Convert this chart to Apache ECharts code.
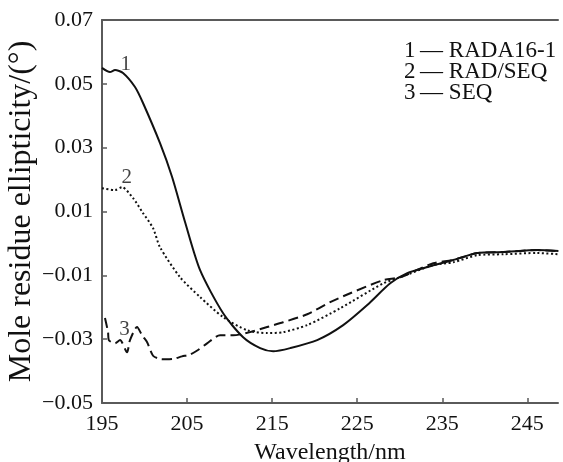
<!DOCTYPE html>
<html>
<head>
<meta charset="utf-8">
<script src="https://cdn.jsdelivr.net/npm/echarts@6/dist/echarts.min.js"></script>
<style>html,body{margin:0;padding:0;background:#fff;}#c{width:563px;height:462px;}</style>
</head>
<body>
<div id="c"></div>
<script>
// Series names
const seriesNames = ['RADA16-1', 'RAD/SEQ', 'SEQ'];
const seriesIds = ['1', '2', '3'];

// Curve 1: RADA16-1 (solid) [wavelength nm, ellipticity]
const rada16 = [
  [195.0, 0.0550], [195.94, 0.0537], [196.53, 0.0543], [197.47, 0.0534], [198.88, 0.0490],
  [199.82, 0.0440], [201.82, 0.0314], [203.24, 0.0208], [204.76, 0.0067], [206.53, -0.0084],
  [209.24, -0.0219], [211.59, -0.0294], [213.59, -0.0328], [215.12, -0.0338], [217.12, -0.0328],
  [220.29, -0.0303], [223.35, -0.0256], [226.18, -0.0193], [228.88, -0.0125], [230.88, -0.0093],
  [233.24, -0.0074], [236.29, -0.0052], [239.12, -0.0030], [242.18, -0.0027], [246.18, -0.0021],
  [248.65, -0.0024]
];

// Curve 2: RAD/SEQ (dotted)
const radseq = [
  [195.0, 0.0173], [196.53, 0.0167], [197.35, 0.0176], [198.65, 0.0142], [199.82, 0.0095],
  [201.0, 0.0048], [201.82, -0.0012], [204.18, -0.0106], [206.53, -0.0168], [209.24, -0.0231],
  [212.06, -0.0272], [214.41, -0.0281], [216.29, -0.0278], [219.12, -0.0256], [223.0, -0.0203],
  [228.06, -0.0125], [230.06, -0.0106], [233.94, -0.0068], [236.29, -0.0059], [239.12, -0.0037],
  [242.18, -0.0034], [246.18, -0.0030], [248.65, -0.0034]
];

// Curve 3: SEQ (dashed)
const seq = [
  [195.35, -0.0234], [195.71, -0.0278], [195.8, -0.0303], [196.53, -0.0313], [197.12, -0.0303],
  [197.94, -0.0341], [198.29, -0.0303], [199.12, -0.0262], [199.71, -0.0288], [200.29, -0.0309],
  [201.0, -0.0352], [201.82, -0.0362], [202.41, -0.0363], [203.35, -0.0362], [204.41, -0.0354],
  [205.35, -0.0348], [206.29, -0.0334], [207.35, -0.0313], [208.88, -0.0288], [210.41, -0.0288],
  [212.41, -0.0278], [214.41, -0.0262], [216.29, -0.0247], [219.12, -0.0222], [221.82, -0.0184],
  [224.18, -0.0156], [228.06, -0.0115], [230.06, -0.0106], [233.94, -0.0062], [236.29, -0.0052],
  [239.12, -0.0030], [242.18, -0.0027], [246.18, -0.0021], [248.65, -0.0024]
];

// Curve number labels [x, y, text]
const curveLabels = [[197.8, 0.0562, '1'], [197.9, 0.0208, '2'], [197.65, -0.0269, '3']];

// Tick values
const xTicks = [195, 205, 215, 225, 235, 245];
const yTicks = [-0.05, -0.03, -0.01, 0.01, 0.03, 0.05, 0.07];

const FONT = '"Liberation Serif", "Times New Roman", serif';
const AXC = '#5a5a5a';

const chart = echarts.init(document.getElementById('c'), null, {renderer: 'canvas'});
const lineStyles = [
  {color: '#111', width: 2, type: 'solid'},
  {color: '#111', width: 2, type: [2, 2.5]},
  {color: '#111', width: 2, type: [10, 5]}
];
const datasets = [rada16, radseq, seq];

const series = datasets.map((d, i) => ({
  name: seriesNames[i],
  type: 'line',
  xAxisIndex: 0,
  data: d,
  showSymbol: false,
  symbol: 'none',
  smooth: 0.25,
  lineStyle: lineStyles[i],
  itemStyle: {color: '#111'},
  animation: false,
  silent: true
}));
series.push({
  name: 'labels',
  type: 'scatter',
  xAxisIndex: 0,
  data: curveLabels,
  symbolSize: 0,
  label: {
    show: true, position: 'inside',
    formatter: p => p.data[2],
    fontFamily: FONT, fontSize: 21, color: '#111'
  },
  animation: false,
  silent: true
});

chart.setOption({
  backgroundColor: '#fff',
  animation: false,
  grid: {left: 102, right: 5, top: 20, bottom: 59, containLabel: false, outerBoundsMode: 'none'},
  legend: {
    data: seriesNames,
    orient: 'vertical',
    left: 394, top: 34,
    icon: 'none',
    itemWidth: 0, itemHeight: 10, itemGap: -2,
    formatter: name => seriesIds[seriesNames.indexOf(name)] + '\u2009\u2014 ' + name,
    textStyle: {fontFamily: FONT, fontSize: 23, color: '#111'},
    selectedMode: false
  },
  xAxis: [{
    type: 'value', min: 195, max: 248.6,
    name: 'Wavelength/nm', nameLocation: 'middle', nameGap: 38, nameMoveOverlap: false,
    nameTextStyle: {fontFamily: FONT, fontSize: 24, color: '#111'},
    axisLine: {show: true, onZero: false, lineStyle: {color: AXC, width: 2}},
    axisTick: {show: true, inside: true, length: 5, customValues: xTicks, lineStyle: {color: AXC, width: 1.5}},
    axisLabel: {customValues: xTicks, fontFamily: FONT, fontSize: 22, color: '#111', margin: 10},
    splitLine: {show: false}
  }, {
    type: 'value', min: 195, max: 248.6, position: 'top',
    axisLine: {show: true, onZero: false, lineStyle: {color: AXC, width: 2}},
    axisTick: {show: false}, axisLabel: {show: false}, splitLine: {show: false}
  }],
  yAxis: {
    type: 'value', min: -0.05, max: 0.07,
    name: 'Mole residue ellipticity/(\u00b0)', nameLocation: 'middle', nameGap: 64, nameMoveOverlap: false,
    nameTextStyle: {fontFamily: FONT, fontSize: 32, color: '#111'},
    axisLine: {show: true, onZero: false, lineStyle: {color: AXC, width: 2}},
    axisTick: {show: true, inside: true, length: 5, customValues: yTicks, lineStyle: {color: AXC, width: 1.5}},
    axisLabel: {
      customValues: yTicks, fontFamily: FONT, fontSize: 22, color: '#111', margin: 9,
      formatter: v => (v < 0 ? '\u2212' : '') + Math.abs(v).toFixed(2)
    },
    splitLine: {show: false}
  },
  series: series
});
</script>
</body>
</html>
